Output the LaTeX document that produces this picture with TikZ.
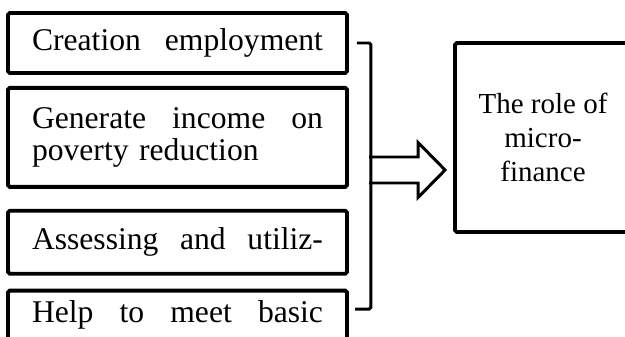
\documentclass[tikz,border=0pt]{standalone}
\usepackage{fontspec}
\setmainfont{Liberation Serif}
\usepackage{tikz}
\usetikzlibrary{positioning,calc}

\tikzset{
  itembox/.style={draw, line width=2.2pt, rounded corners=1pt, text width=5.82cm,
    inner xsep=0.48cm, minimum width=6.78cm, align=left,
    font=\fontsize{18}{18.3}\selectfont},
  rolebox/.style={draw, line width=2.2pt, rounded corners=1pt, minimum width=3.52cm,
    minimum height=3.78cm, align=center, font=\fontsize{16.5}{19.2}\selectfont},
  hollow/.style={draw, line width=1.7pt, line join=miter},
}

\begin{document}
\begin{tikzpicture}[node distance=0.22cm and 1cm]
   \useasboundingbox (0,0) rectangle (12.5,-6.72);
   \clip (0,0) rectangle (12.5,-6.72);

   \node[itembox, minimum height=1.2cm] (emp) at (3.55,-0.86) {Creation\hfill employment};
   \node[itembox, minimum height=1.98cm] (inc) [below=0.22cm of emp] {Generate\hfill income\hfill on\\poverty reduction};
   \node[itembox, minimum height=1.26cm] (res) [below=0.4cm of inc] {Assessing\hfill and\hfill utiliz-};
   \node[itembox, minimum height=1.66cm] (need) [below=0.26cm of res] {Help\hfill to\hfill meet\hfill basic\\\strut};

   \node[rolebox] (role) at (10.86,-2.75) {The role of\\micro-\\finance};

   % bracket
   \coordinate (bt) at ($(emp.east)+(0.16,0)$);
   \coordinate (bb) at (7.1,-6.18);
   \draw[line width=1.7pt, rounded corners=1pt] (bt) -- ++(0.28,0) |- (bb);

   % arrow
   \coordinate (tail) at (7.38,-3.4);
   \coordinate (tip) at ($(role.west |- tail)+(-0.16,0)$);
   \draw[hollow] ($(tail)+(0,0.26)$) -- ($(tip)+(-0.54,0.26)$) -- ($(tip)+(-0.54,0.55)$)
      -- (tip) -- ($(tip)+(-0.54,-0.55)$) -- ($(tip)+(-0.54,-0.26)$) -- ($(tail)+(0,-0.26)$);
\end{tikzpicture}
\end{document}
